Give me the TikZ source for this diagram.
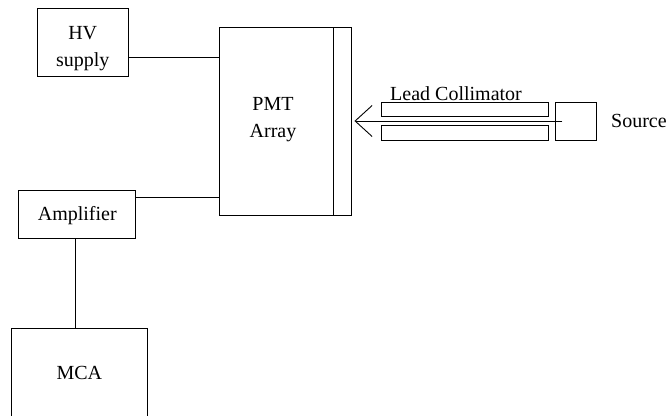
\documentclass[tikz,border=0pt]{standalone}
\usepackage{fontspec}
\setmainfont{Liberation Serif}
\usetikzlibrary{arrows.meta}
\begin{document}
\begin{tikzpicture}[x=1pt,y=-1pt,
  box/.style={draw, line width=0.9pt, inner sep=0pt, anchor=center},
  lbl/.style={font=\fontsize{20}{27}\selectfont, align=center, inner sep=0pt},
  wire/.style={line width=0.9pt}]
\useasboundingbox (0,0) rectangle (668,415);

% blocks
\node[box, minimum width=91pt, minimum height=68pt] (hv) at (82.7,42) {};
\node[lbl] (hvtext) at (82.7,48.5) {HV\\supply};

\node[box, minimum width=114pt, minimum height=188pt] (pmt) at (276,121) {};
\node[lbl] (pmttext) at (273,120) {PMT\\Array};
\node[box, minimum width=18pt, minimum height=188pt] (win) at (342,121) {};

\node[box, minimum width=117pt, minimum height=48pt] (amp) at (77.3,214) {};
\node[lbl] (amptext) at (77.3,216) {Amplifier};

\node[box, minimum width=136pt, minimum height=90pt] (mca) at (79.3,373) {};
\node[lbl] (mcatext) at (79.3,373) {MCA};

% collimator and source
\node[box, minimum width=166.6pt, minimum height=14.4pt] (colup) at (465,109.5) {};
\node[box, minimum width=166.6pt, minimum height=15pt] (collo) at (465,132.5) {};
\node[lbl, anchor=south] (coltext) at (456,101) {Lead Collimator};
\node[box, minimum width=41pt, minimum height=37.7pt] (src) at (576.2,121.2) {};
\node[lbl, anchor=west] (srctext) at (611,121) {Source};

% connection points
\coordinate (hvout) at ([yshift=-15pt]hv.east);
\coordinate (ampout) at ([yshift=17pt]amp.east);
\coordinate (ampdown) at ([xshift=-1.6pt]amp.south);

% connections
\draw[wire] (hvout) -- (pmt.west |- hvout);
\draw[wire] (ampout) -- (pmt.west |- ampout);
\draw[wire] (ampdown) -- (ampdown |- mca.north);

% gamma beam
\coordinate (beamstart) at (562.3,121);
\coordinate (beamend) at ([xshift=3pt]win.east);
\draw[wire, -{Straight Barb[length=17pt, width=31pt, line width=0.9pt]}] (beamstart) -- (beamstart -| beamend);
\end{tikzpicture}
\end{document}
